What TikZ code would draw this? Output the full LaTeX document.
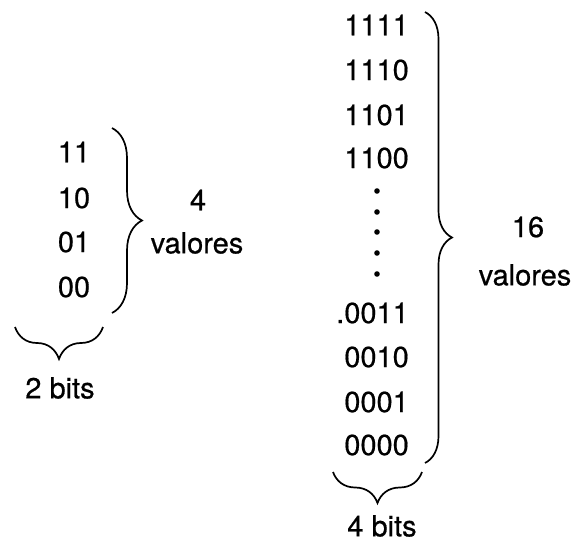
\documentclass[tikz,border=0pt]{standalone}
\usepackage{fontspec}
\setmainfont[FakeBold=0.6,AutoFakeBold=0.6]{TeX Gyre Heros}
\usetikzlibrary{decorations.pathreplacing}
\begin{document}
\begin{tikzpicture}[x=1pt,y=-1pt,
    val/.style={inner sep=0pt,font=\fontsize{29}{34}\selectfont\bfseries},
    brc/.style={decorate,line width=1.7pt,decoration={brace,amplitude=#1}}]
    \useasboundingbox (0,0) rectangle (584,544);
    % 2 bits
    \node[val] (b11) at (74,152) {11};
    \node[val] (b10) at (74,198) {10};
    \node[val] (b01) at (74,242) {01};
    \node[val] (b00) at (74,287) {00};
    \coordinate (lt) at (112,128);
    \coordinate (lb) at (112,313);
    \draw[brc=30pt] (lt) -- (lb);
    \node[val] (n4) at (198,200) {4};
    \node[val] (v4) at (197,243) {valores};
    \coordinate (lbr) at (103,327);
    \coordinate (lbl) at (15,327);
    \draw[brc=32pt] (lbr) -- (lbl);
    \node[val] (bits2) at (60,388) {2 bits};
    % 4 bits
    \node[val,anchor=east] (c1111) at (409,25) {1111};
    \node[val,anchor=east] (c1110) at (409,70) {1110};
    \node[val,anchor=east] (c1101) at (409,115) {1101};
    \node[val,anchor=east] (c1100) at (409,158) {1100};
    \foreach \y in {191,212,232,253,274}
      \fill (377,\y) circle (2.8);
    \node[val,anchor=east] (c0011) at (409,313) {.0011};
    \node[val,anchor=east] (c0010) at (409,357) {0010};
    \node[val,anchor=east] (c0001) at (409,402) {0001};
    \node[val,anchor=east] (c0000) at (409,445) {0000};
    \coordinate (rt) at (425,12);
    \coordinate (rb) at (425,463);
    \draw[brc=27pt] (rt) -- (rb);
    \node[val] (n16) at (528,227) {16};
    \node[val] (v16) at (525,275) {valores};
    \coordinate (rbr) at (422,472);
    \coordinate (rbl) at (333,472);
    \draw[brc=31pt] (rbr) -- (rbl);
    \node[val] (bits4) at (382,526) {4 bits};
\end{tikzpicture}
\end{document}
